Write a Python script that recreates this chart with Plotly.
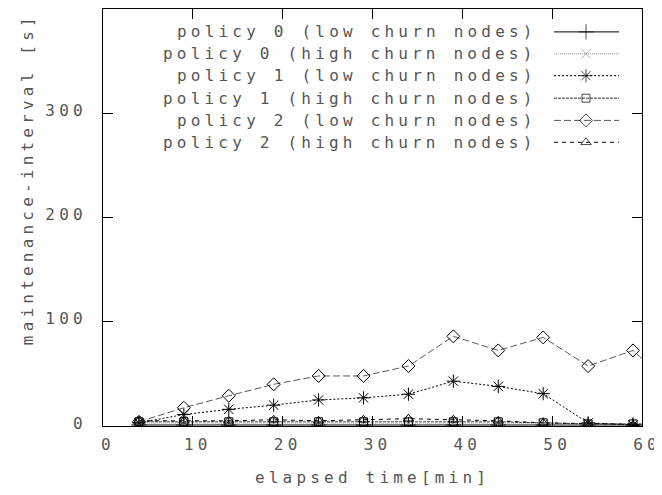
import plotly.graph_objects as go

# ---- data ----
elapsed_min = [4, 9, 14, 19, 24, 29, 34, 39, 44, 49, 54, 59, 64]
p0_low = [1, 1, 1, 1, 1, 1, 1, 1, 1, 1, 1, 1, 1]
p0_high = [2, 2, 2, 2, 2, 2, 2, 2, 2, 2, 1, 1, 1]
p1_low = [3, 11, 16, 20, 25, 27, 30.5, 43, 38, 31, 3, 1, 1]
p1_high = [4, 4, 4, 4, 4, 4, 4, 4, 4, 3, 2, 2, 2]
p2_low = [4, 17.5, 29, 40, 48, 48, 57.5, 86, 72.5, 85, 57.5, 72.5, 33]
p2_high = [5, 5, 5, 6, 5, 6, 7, 6, 5, 3, 2, 1, 1]

series_names = [
    "policy 0 (low churn nodes)",
    "policy 0 (high churn nodes)",
    "policy 1 (low churn nodes)",
    "policy 1 (high churn nodes)",
    "policy 2 (low churn nodes)",
    "policy 2 (high churn nodes)",
]
series_values = [p0_low, p0_high, p1_low, p1_high, p2_low, p2_high]

x_tick_vals = [0, 10, 20, 30, 40, 50, 60]
y_tick_vals = [0, 100, 200, 300]
x_title = "elapsed time[min]"
y_title = "maintenance-interval [s]"

# ---- styles ----
styles = [
    dict(color="#000000", mcolor="#000000", dash="solid", symbol="cross-thin-open", size=11),
    dict(color="#9a9a9a", mcolor="#8a8a8a", dash="1px,1px", symbol="x-thin-open", size=9),
    dict(color="#000000", mcolor="#000000", dash="2px,2px", symbol="asterisk-open", size=11),
    dict(color="#333333", mcolor="#000000", dash="3px,1px", symbol="square-open", size=8),
    dict(color="#5a5a5a", mcolor="#000000", dash="7px,3px", symbol="diamond-open", size=10),
    dict(color="#000000", mcolor="#000000", dash="4px,4px", symbol="triangle-up-open", size=9),
]

FONT = "DejaVu Sans Mono"
TXT = "#555555"


def spaced(t, ls=4.2):
    return f'<span style="letter-spacing:{ls}px">{t}</span>'


fig = go.Figure()

for name, vals, st in zip(series_names, series_values, styles):
    fig.add_trace(go.Scatter(
        x=elapsed_min, y=vals, mode="lines+markers", name=name,
        line=dict(color=st["color"], width=1, dash=st["dash"]),
        marker=dict(symbol=st["symbol"], size=st["size"], color=st["mcolor"],
                    line=dict(color=st["mcolor"], width=1)),
        showlegend=False, xaxis="x", yaxis="y",
    ))

# ---- custom gnuplot-style key (text right, sample line on the right) ----
row_y = [22.9, 44.8, 66.7, 89.2, 111.4, 133.3]
text_right = 436
line_x0, line_xm, line_x1 = 451, 483, 516
for name, st, ry in zip(series_names, styles, row_y):
    fig.add_trace(go.Scatter(
        x=[line_x0, line_xm, line_x1], y=[ry, ry, ry], mode="lines+markers",
        line=dict(color=st["color"], width=1, dash=st["dash"]),
        marker=dict(symbol=st["symbol"], size=[0, st["size"], 0], color=st["mcolor"],
                    line=dict(color=st["mcolor"], width=1)),
        showlegend=False, hoverinfo="skip", xaxis="x2", yaxis="y2",
    ))
    fig.add_annotation(
        x=text_right, y=ry, xref="x2", yref="y2", text=spaced(name),
        showarrow=False, xanchor="right", yanchor="middle",
        font=dict(family=FONT, size=16, color=TXT),
    )

# y-axis label placed like the gnuplot original (not centred on the axis)
fig.add_annotation(
    x=0, y=0.592, xref="paper", yref="paper", xshift=-76,
    text=spaced(y_title), textangle=-90, showarrow=False,
    xanchor="center", yanchor="middle",
    font=dict(family=FONT, size=16, color=TXT),
)

axis_common = dict(
    showgrid=False, zeroline=False, showline=True, linecolor="#000000", linewidth=1,
    mirror="ticks", ticks="inside", ticklen=10, tickcolor="#000000", tickwidth=1,
    tickfont=dict(family=FONT, size=16, color=TXT),
)

fig.update_layout(
    width=654, height=487,
    margin=dict(l=95, r=20, t=1, b=69),
    paper_bgcolor="white", plot_bgcolor="white",
    showlegend=False,
    xaxis=dict(
        range=[0, 60], tickvals=x_tick_vals,
        ticktext=[spaced(str(v)) for v in x_tick_vals],
        ticklabelstandoff=4, ticklabelshift=5,
        title=dict(text=spaced(x_title), font=dict(family=FONT, size=16, color=TXT), standoff=18),
        **axis_common,
    ),
    yaxis=dict(
        range=[0, 400], tickvals=y_tick_vals,
        ticktext=[spaced(str(v)) for v in y_tick_vals],
        ticklabelstandoff=12, ticklabelshift=-3,
        **axis_common,
    ),
    xaxis2=dict(range=[0, 539], overlaying="x", visible=False, fixedrange=True),
    yaxis2=dict(range=[417, 0], overlaying="y", visible=False, fixedrange=True),
)

fig.write_html("out.html")
